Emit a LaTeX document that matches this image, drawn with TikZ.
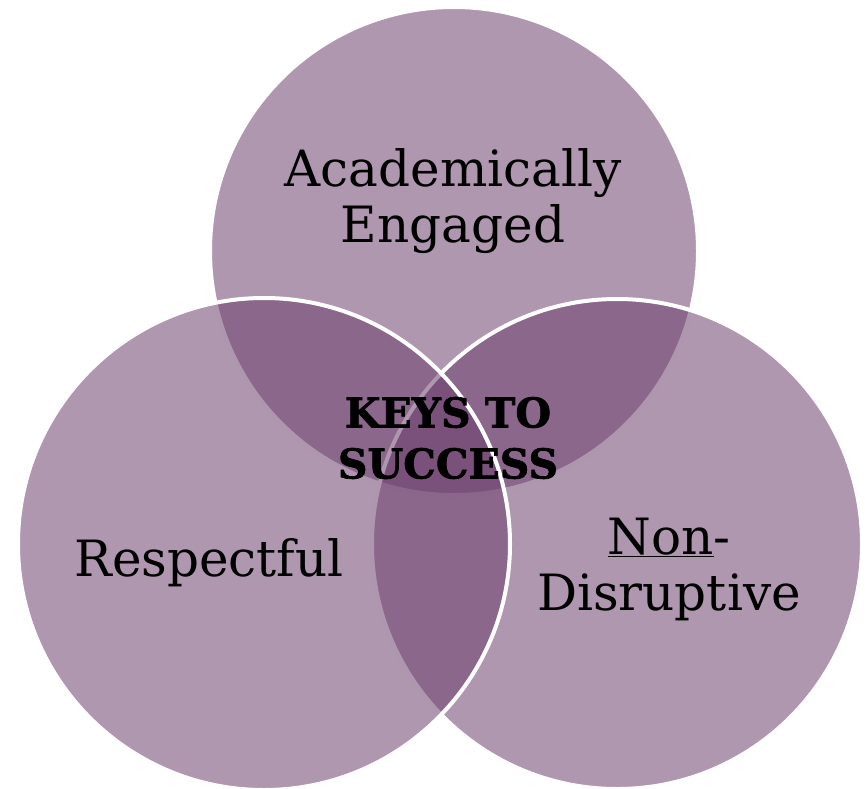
\documentclass[tikz,border=0pt]{standalone}
\usepackage{fontspec}
\setmainfont{DejaVu Serif}
\newfontfamily\keysfont[FakeBold=1.6]{DejaVu Serif Bold}
\definecolor{vennplum}{RGB}{106,62,108}
\tikzset{
  venn/.style={draw=white, line width=4pt, fill=vennplum, fill opacity=0.54},
  lbl/.style={align=center, font=\fontsize{50}{56}\selectfont, text=black},
  keylbl/.style={align=center, font=\keysfont\fontsize{41}{51}\selectfont, text=black}
}
\begin{document}
\begin{tikzpicture}[x=1pt, y=-1pt]
    \useasboundingbox (0,0) rectangle (865,788);
    % three overlapping circles
    \draw[venn] (454,251) circle (244);
    \draw[venn] (617,544) circle (245);
    \draw[venn] (264,544) circle (246);
    % labels
    \node[lbl] (engaged) at (453,201) {Academically\\Engaged};
    \node[lbl, anchor=base] (respect) at (209,576) {Respectful};
    \node[lbl] (nondis) at (669,569) {\underline{Non}-\\Disruptive};
    \node[keylbl] (keys) at (448,438) {KEYS TO\\SUCCESS};
\end{tikzpicture}
\end{document}
